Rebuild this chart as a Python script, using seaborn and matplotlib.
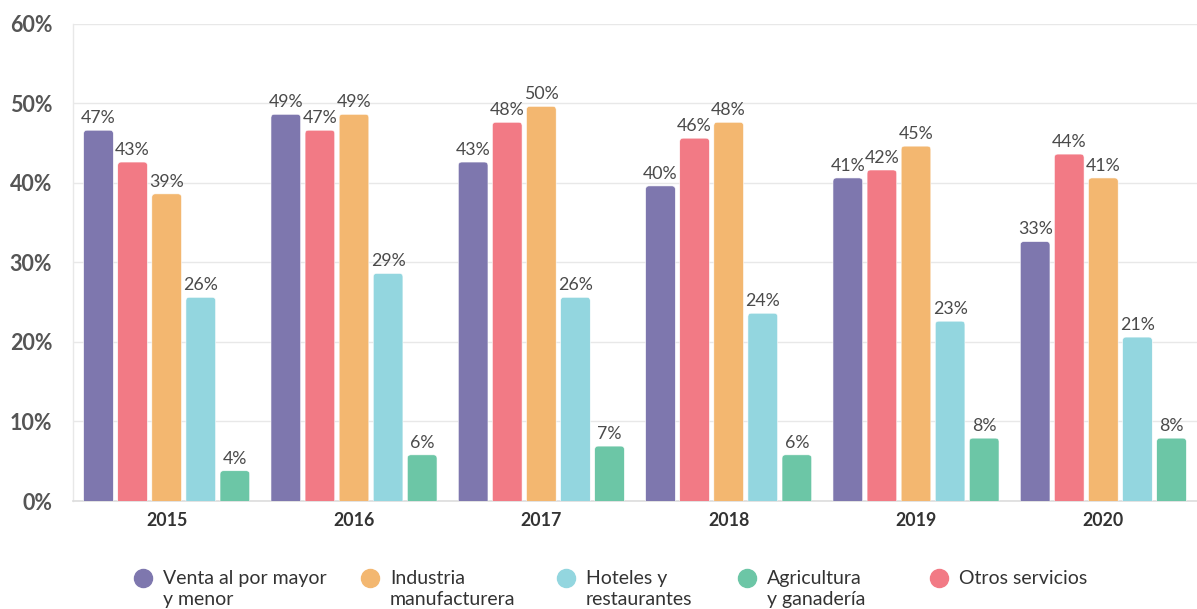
import numpy as np
import pandas as pd
import seaborn as sns
import matplotlib.pyplot as plt
from matplotlib.patches import FancyBboxPatch
from matplotlib.lines import Line2D

# ---- data -------------------------------------------------------------
years = ["2015", "2016", "2017", "2018", "2019", "2020"]
venta = [46.6, 48.6, 42.6, 39.6, 40.6, 32.6]
otros = [42.6, 46.6, 47.6, 45.6, 41.6, 43.6]
industria = [38.6, 48.6, 49.6, 47.6, 44.6, 40.6]
hoteles = [25.6, 28.6, 25.6, 23.6, 22.6, 20.6]
agricultura = [3.8, 5.8, 6.9, 5.8, 7.9, 7.9]

series = {
    "Venta al por mayor\ny menor": venta,
    "Otros servicios": otros,
    "Industria\nmanufacturera": industria,
    "Hoteles y\nrestaurantes": hoteles,
    "Agricultura\ny ganadería": agricultura,
}
colors = {
    "Venta al por mayor\ny menor": "#7E77AE",
    "Otros servicios": "#F27A85",
    "Industria\nmanufacturera": "#F3B770",
    "Hoteles y\nrestaurantes": "#93D6DF",
    "Agricultura\ny ganadería": "#6CC6A6",
}
bar_order = list(series.keys())
legend_order = [
    "Venta al por mayor\ny menor",
    "Industria\nmanufacturera",
    "Hoteles y\nrestaurantes",
    "Agricultura\ny ganadería",
    "Otros servicios",
]
y_ticks = [0, 10, 20, 30, 40, 50, 60]

df = pd.DataFrame(
    [(y, s, v) for s, vals in series.items() for y, v in zip(years, vals)],
    columns=["year", "sector", "value"],
)

# ---- figure -----------------------------------------------------------
sns.set_theme(style="white")
plt.rcParams["font.family"] = ["Lato", "DejaVu Sans"]

W, H, DPI = 1197, 609, 100
fig = plt.figure(figsize=(W / DPI, H / DPI), dpi=DPI)
ax_left, ax_bottom = 73 / W, (H - 501) / H
ax_w, ax_h = 1 - ax_left, (501 - 23.6) / H
ax = fig.add_axes([ax_left, ax_bottom, ax_w, ax_h])

sns.barplot(
    data=df, x="year", y="value", hue="sector", hue_order=bar_order,
    palette=colors, width=0.91, gap=0.13, saturation=1, legend=False, ax=ax,
)

ax.set_xlim(-0.5, len(years) - 0.5)
ax.set_ylim(0, 60)

# rounded bar tops: swap each rectangle for a rounded box reaching below zero
x_per_px = len(years) / (ax_w * W)
y_per_px = 60 / (ax_h * H)
aspect = y_per_px / x_per_px
radius = 3.5 * x_per_px
for container in ax.containers:
    for bar in container:
        x, w, h = bar.get_x(), bar.get_width(), bar.get_height()
        fc = bar.get_facecolor()
        bar.set_visible(False)
        box = FancyBboxPatch(
            (x, -2), w, h + 2,
            boxstyle=f"round,pad=0,rounding_size={radius}",
            mutation_aspect=aspect, facecolor=fc,
            edgecolor="white", linewidth=0.4, zorder=3,
        )
        ax.add_patch(box)
        ax.annotate(
            f"{int(round(h))}%", (x + w / 2, h), xytext=(0, 3),
            textcoords="offset points", ha="center", va="bottom",
            fontsize=12.8, color="#4a4a4a", zorder=4,
        )

# axes styling
ax.set_yticks(y_ticks)
ax.set_yticklabels([f"{t}%" for t in y_ticks], fontsize=15.5, fontweight="bold", color="#555555")
ax.set_xticklabels(years, fontsize=12.8, fontweight="bold", color="#333333")
ax.tick_params(axis="y", length=0, pad=15)
ax.tick_params(axis="x", length=0, pad=8)
ax.set_xlabel("")
ax.set_ylabel("")
ax.grid(axis="y", color="#E8E8E8", linewidth=1, zorder=0)
ax.set_axisbelow(True)
for side in ["top", "right"]:
    ax.spines[side].set_visible(False)
ax.spines["left"].set_color("#E8E8E8")
ax.spines["bottom"].set_color("#DDDDDD")
ax.spines["left"].set_linewidth(1)
ax.spines["bottom"].set_linewidth(1.2)

# legend: dot + label, first line aligned with the dot
legend_x = [143, 370, 566, 747, 939]
legend_y = 578
for name, lx in zip(legend_order, legend_x):
    fig.add_artist(Line2D(
        [lx / W], [1 - legend_y / H], marker="o", markersize=13,
        markerfacecolor=colors[name], markeredgecolor=colors[name],
        linestyle="none", transform=fig.transFigure,
    ))
    fig.text(
        (lx + 20) / W, 1 - (legend_y - 8) / H, name,
        ha="left", va="top", fontsize=14, color="#333333", linespacing=1.3,
    )

fig.savefig("out.png", dpi=DPI)
